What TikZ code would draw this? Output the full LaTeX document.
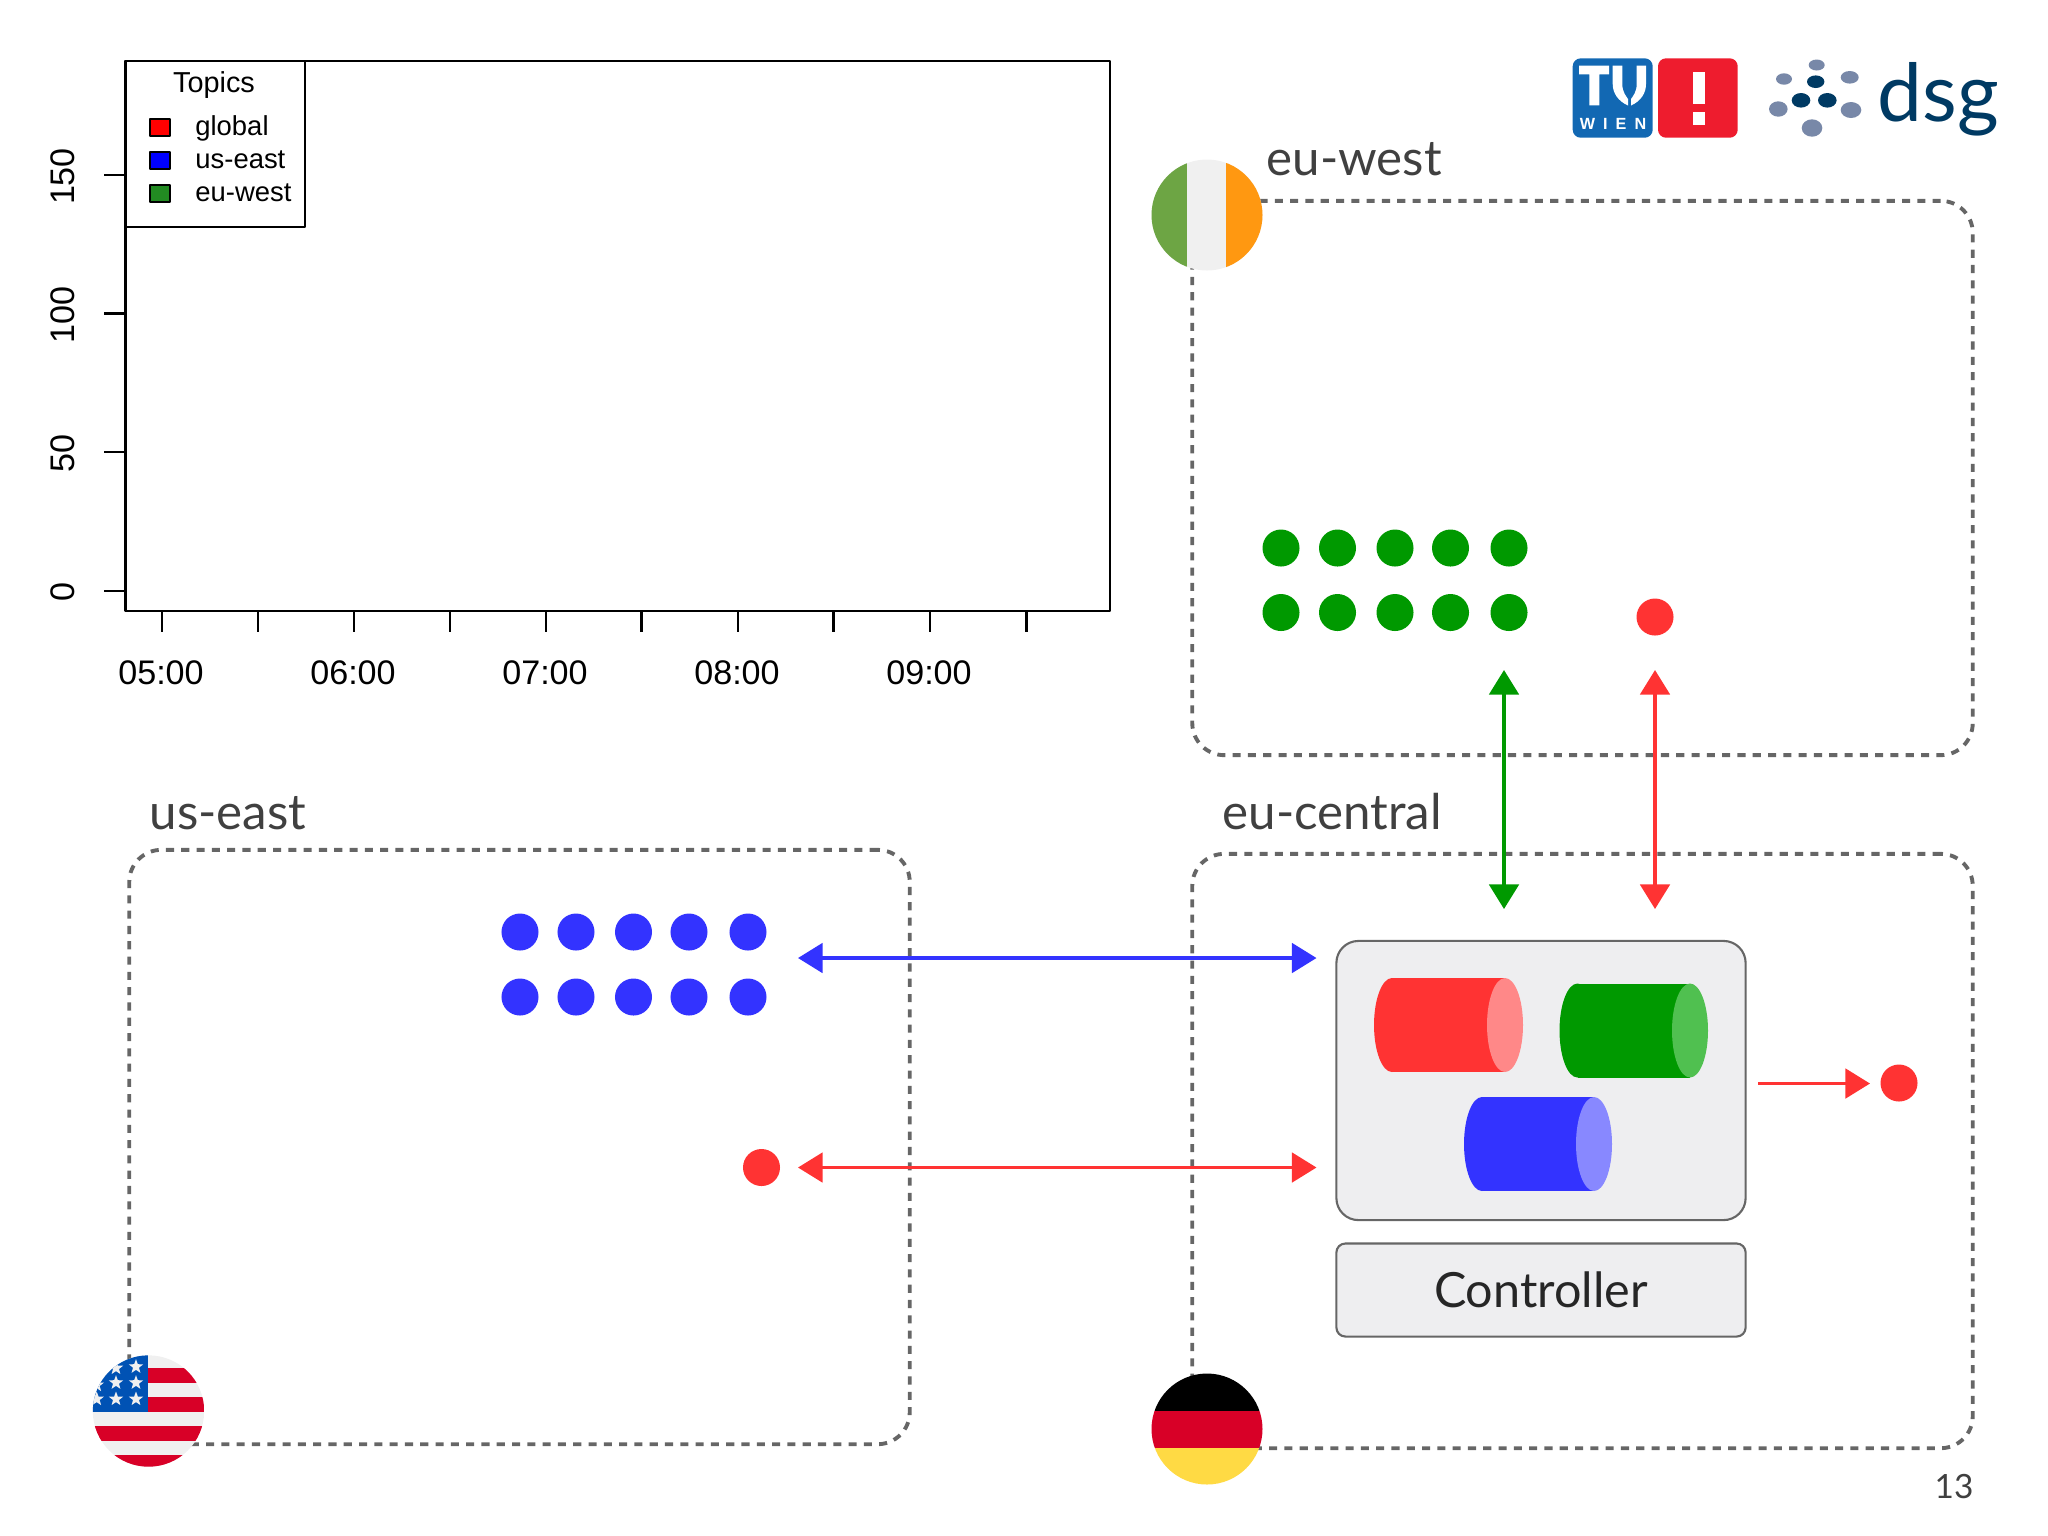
\documentclass[tikz,border=0pt]{standalone}
\usepackage{fontspec}
\setmainfont{Lato}
\newfontfamily\plotfont{Liberation Sans}
\newfontfamily\wienfont[LetterSpace=50]{Liberation Sans}
\usetikzlibrary{arrows.meta,shapes.geometric}
\definecolor{regiongray}{HTML}{666666}
\definecolor{boxfill}{HTML}{EEEEF0}
\definecolor{tred}{HTML}{FF3333}
\definecolor{tgreen}{HTML}{009900}
\definecolor{tblue}{HTML}{3333FF}
\definecolor{capred}{HTML}{FF8888}
\definecolor{capgreen}{HTML}{50C050}
\definecolor{capblue}{HTML}{8888FF}
\definecolor{tublue}{HTML}{1268B3}
\definecolor{tured}{HTML}{EE1C2E}
\definecolor{dsgdark}{HTML}{003A63}
\definecolor{dsglight}{HTML}{7888A8}
\definecolor{flagred}{HTML}{D80027}
\definecolor{flagwhite}{HTML}{F0F0F0}
\definecolor{flagblue}{HTML}{0052B4}
\definecolor{flaggreen}{HTML}{6DA544}
\definecolor{flagorange}{HTML}{FF9811}
\definecolor{flagyellow}{HTML}{FFDA44}
\definecolor{swgreen}{HTML}{228B22}
\begin{document}
\begin{tikzpicture}[
  x=0.01cm,y=-0.01cm,
  line join=round,
  region/.style={draw=regiongray,line width=1.1pt,dash pattern=on 2.3pt off 2.05pt,
    rounded corners=3.2mm,minimum width=7.8cm,inner sep=0pt},
  regionlabel/.style={anchor=base west,font=\fontsize{14}{16}\selectfont,inner sep=0pt,text=black!75},
  ctrlbox/.style={draw=black!60,fill=boxfill,line width=0.6pt,minimum width=4.09cm,inner sep=0pt},
  topicdot/.style={circle,minimum size=0.37cm,inner sep=0pt},
  link/.style={line width=0.95pt,{Triangle[length=7pt,width=8.4pt]}-{Triangle[length=7pt,width=8.4pt]}},
  oneway/.style={line width=0.95pt,-{Triangle[length=7pt,width=8.4pt]}},
  axisline/.style={draw=black,line width=0.6pt},
  ticklabel/.style={font=\plotfont\fontsize{9.7}{11}\selectfont,inner sep=0pt},
  legendlabel/.style={anchor=base west,font=\plotfont\fontsize{7.8}{9}\selectfont,inner sep=0pt},
  swatch/.style={draw=black,line width=0.5pt,minimum width=0.2cm,minimum height=0.17cm,inner sep=0pt}
]
  \useasboundingbox (0,0) rectangle (2048,1535);

  % Plot frame and ticks
  \draw[axisline] (125.5,61) rectangle (1110,611);
  \foreach \x in {162,258,354,450,546,641.5,738,833.5,930,1026.5}
    \draw[axisline] (\x,611) -- (\x,632);
  \foreach \y in {175,313.5,452,590.6}
    \draw[axisline] (104,\y) -- (125.5,\y);
  \foreach \y/\t in {176.5/150,315/100,453.5/50,592/0}
    \node[ticklabel,rotate=90] (y\t) at (63,\y) {\t};
  \foreach \x/\t in {161/05:00,353/06:00,545/07:00,737/08:00,929/09:00}
    \node[ticklabel] (x\x) at (\x,673) {\t};

  % Legend
  \draw[axisline,fill=white] (125.5,61) rectangle (305,226.7);
  \node[font=\plotfont\fontsize{8.2}{9}\selectfont,inner sep=0pt] (topics) at (214,85) {Topics};
  \node[swatch,fill=red] (swglobal) at (160.3,127.6) {};
  \node[swatch,fill=blue] (swus) at (160.3,160.6) {};
  \node[swatch,fill=swgreen] (sweu) at (160.3,193.5) {};
  \node[legendlabel] (lglobal) at (194.7,135) {global};
  \node[legendlabel] (lus) at (194.7,168) {us-east};
  \node[legendlabel] (leu) at (194.7,201) {eu-west};

  % Logos
  \fill[tublue,rounded corners=0.8mm] (1572.7,58.3) rectangle (1652.7,137.7);
  \fill[tured,rounded corners=0.8mm] (1658,58.3) rectangle (1737.7,137.7);
  \fill[white] (1579,65.7) -- (1609,65.7) -- (1609,74.3) -- (1599.3,74.3) -- (1599.3,105.3)
    -- (1589.3,105.3) -- (1589.3,74.3) -- (1579,74.3) -- cycle;
  \fill[white] (1612.7,65.7) -- (1622.3,65.7) -- (1622.3,84) .. controls (1622.3,92) and (1626,96) .. (1628,99)
    -- (1628,105.5) .. controls (1618,101) and (1612.7,93) .. (1612.7,84) -- cycle;
  \fill[white] (1646,65.7) -- (1636.7,65.7) -- (1636.7,84) .. controls (1636.7,92) and (1633,96) .. (1631,99)
    -- (1631,105.5) .. controls (1641,101) and (1646,93) .. (1646,84) -- cycle;
  \node[font=\wienfont\bfseries\fontsize{4.6}{5}\selectfont,text=white,inner sep=0pt] (wien) at (1613,124) {WIEN};
  \fill[white] (1692.7,71.7) rectangle (1705,104);
  \fill[white] (1692.7,112.3) rectangle (1705,124.7);
  \foreach \x/\y/\rx/\ry in {1816.7/65/8/5.5,1784/79/8/5.7,1849.7/77.3/9/6.3,1778.3/109/9.3/7.7,1851/110/10.3/8,1812/128/10.3/8.7}
    \fill[dsglight] (\x,\y) ellipse [x radius=\rx,y radius=\ry];
  \foreach \x/\y/\rx/\ry in {1815.7/81.7/8.7/6.3,1801/100.3/9.3/7.3,1827.3/100.3/9.3/7.3}
    \fill[dsgdark] (\x,\y) ellipse [x radius=\rx,y radius=\ry];
  \node[anchor=base west,font=\fontsize{22.8}{26}\selectfont,text=dsgdark,inner sep=0pt] (dsg) at (1877,121.7) {dsg};

  % Regions
  \node[region,minimum height=5.54cm] (euwest) at (1582.5,478) {};
  \node[region,minimum height=5.94cm] (eucentral) at (1582.5,1151) {};
  \node[region,minimum height=5.94cm] (useast) at (519.5,1147) {};
  \node[regionlabel] (leuwest) at (1266,175) {eu-west};
  \node[regionlabel] (leucentral) at (1222,829) {eu-central};
  \node[regionlabel] (luseast) at (149,829) {us-east};

  % Flags
  \begin{scope}
    \clip (1207,215) circle (55.5);
    \fill[flagwhite] (1150,158) rectangle (1265,272);
    \fill[flaggreen] (1150,158) rectangle (1187,272);
    \fill[flagorange] (1226,158) rectangle (1265,272);
  \end{scope}
  \begin{scope}
    \clip (1207,1429) circle (55.5);
    \fill[black] (1150,1372) rectangle (1265,1410.5);
    \fill[flagred] (1150,1410.5) rectangle (1265,1448);
    \fill[flagyellow] (1150,1448) rectangle (1265,1486);
  \end{scope}
  \begin{scope}
    \clip (148.5,1411) circle (55.7);
    \fill[flagwhite] (92,1355) rectangle (205,1468);
    \fill[flagred] (148,1368) rectangle (205,1382.7);
    \fill[flagred] (148,1397.3) rectangle (205,1411.7);
    \fill[flagred] (92,1426) rectangle (205,1440.7);
    \fill[flagred] (92,1455) rectangle (205,1468);
    \fill[flagblue] (92,1355) rectangle (148.3,1411.7);
    \foreach \x/\y in {136/1366.7,136/1382.7,136/1399,116/1368,116/1382.7,116/1399,96.7/1385,96.7/1399}
      \node[star,star points=5,star point ratio=2.4,fill=flagwhite,inner sep=0pt,minimum size=0.15cm] at (\x,\y) {};
  \end{scope}

  % Dots
  \foreach \x [count=\i] in {1281,1337.5,1395,1450.5,1509} {
    \node[topicdot,fill=tgreen] (ga\i) at (\x,548) {};
    \node[topicdot,fill=tgreen] (gb\i) at (\x,612.5) {};
  }
  \foreach \x [count=\i] in {520,576,633.5,689,748} {
    \node[topicdot,fill=tblue] (ba\i) at (\x,932) {};
    \node[topicdot,fill=tblue] (bb\i) at (\x,997) {};
  }
  \node[topicdot,fill=tred] (redwest) at (1655,617) {};
  \node[topicdot,fill=tred] (redus) at (761.5,1167.5) {};
  \node[topicdot,fill=tred] (redout) at (1899,1083) {};

  % Controller
  \node[ctrlbox,minimum height=2.79cm,rounded corners=2.2mm] (broker) at (1541,1080.5) {};
  \node[ctrlbox,minimum height=0.93cm,rounded corners=0.9mm,
    font=\fontsize{13.8}{16}\selectfont,text=black!85] (controller) at (1541,1290) {Controller};

  % Cylinders
  \foreach \xa/\xb/\cy/\cbody/\ccap in {1374/1523/1025/tred/capred,1559.5/1708/1030.5/tgreen/capgreen,1464/1612/1144/tblue/capblue} {
    \fill[\cbody] (\xa+18,\cy) ellipse [x radius=18,y radius=47];
    \fill[\cbody] (\xa+18,\cy-47) rectangle (\xb-18,\cy+47);
    \fill[\ccap] (\xb-18,\cy) ellipse [x radius=18,y radius=47];
  }

  % Links
  \coordinate (usa) at (798,958);
  \coordinate (ctrla) at (1316.5,958);
  \coordinate (usb) at (798,1167.5);
  \coordinate (ctrlb) at (1316.5,1167.5);
  \coordinate (westa) at (1504,670);
  \coordinate (centa) at (1504,909);
  \coordinate (westb) at (1655,670);
  \coordinate (centb) at (1655,909);
  \coordinate (outa) at (1758,1083.5);
  \coordinate (outb) at (1870,1083.5);
  \draw[link,tblue] (usa) -- (ctrla);
  \draw[link,tred] (usb) -- (ctrlb);
  \draw[link,tgreen] (westa) -- (centa);
  \draw[link,tred] (westb) -- (centb);
  \draw[oneway,tred] (outa) -- (outb);

  \node[font=\fontsize{9.5}{11}\selectfont,inner sep=0pt,text=black!75] (pagenum) at (1954,1486) {13};
\end{tikzpicture}
\end{document}
